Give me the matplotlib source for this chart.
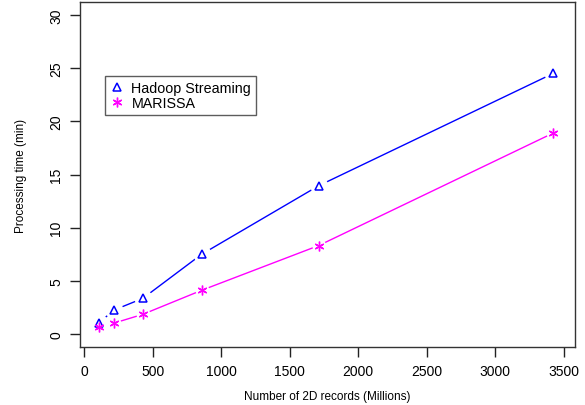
import matplotlib
matplotlib.use("Agg")
import matplotlib.pyplot as plt

records = [107, 214, 428, 856, 1712, 3424]
hadoop = [1.05, 2.25, 3.37, 7.5, 13.95, 24.5]
marissa = [0.65, 1.03, 1.87, 4.12, 8.33, 18.9]
xticks = [0, 500, 1000, 1500, 2000, 2500, 3000, 3500]
yticks = [0, 5, 10, 15, 20, 25, 30]

plt.rcParams['font.family'] = ['Liberation Sans', 'DejaVu Sans']

fig = plt.figure(figsize=(5.85, 4.06), dpi=100)
ax = fig.add_axes([80/585, 58/406, 495/585, 345/406])

# R type="b": lines broken around the points (white masks under markers)
ax.plot(records, hadoop, color='blue', lw=1, zorder=2)
ax.plot(records, marissa, color='magenta', lw=1, zorder=2)
ax.plot(records, hadoop, ls='none', marker='o', ms=13, mfc='white', mec='none', zorder=3)
ax.plot(records, marissa, ls='none', marker='o', ms=10, mfc='white', mec='none', zorder=3)
ax.plot(records, hadoop, ls='none', marker='^', ms=6, mfc='none', mec='blue', mew=1.1,
        zorder=4, label='Hadoop Streaming')
ax.plot(records, marissa, ls='none', marker=(6, 2, 0), ms=7, mec='magenta', mew=1.0,
        zorder=4, label='MARISSA')

ax.set_xlim(-31, 3582)
ax.set_ylim(-1.2, 31.2)
ax.set_xticks(xticks)
ax.set_yticks(yticks)
ax.set_yticklabels([str(v) for v in yticks], rotation=90, va='center')
ax.tick_params(direction='out', length=7, width=1, labelsize=10, pad=5, color='#222222')
for s in ax.spines.values():
    s.set_color('#333333')
    s.set_linewidth(1)

ax.set_xlabel('Number of 2D records (Millions)', fontsize=8.5, labelpad=9)
ax.set_ylabel('Processing time (min)', fontsize=8.5, labelpad=16)

leg = ax.legend(loc='upper left', bbox_to_anchor=(25/495, 271/345), fontsize=10.3,
                frameon=True, fancybox=False, handlelength=1.0, handletextpad=0.5,
                borderpad=0.35, labelspacing=0.05, borderaxespad=0)
leg.get_frame().set_edgecolor('#333333')
leg.get_frame().set_linewidth(1)

fig.savefig('out.png', dpi=100)
